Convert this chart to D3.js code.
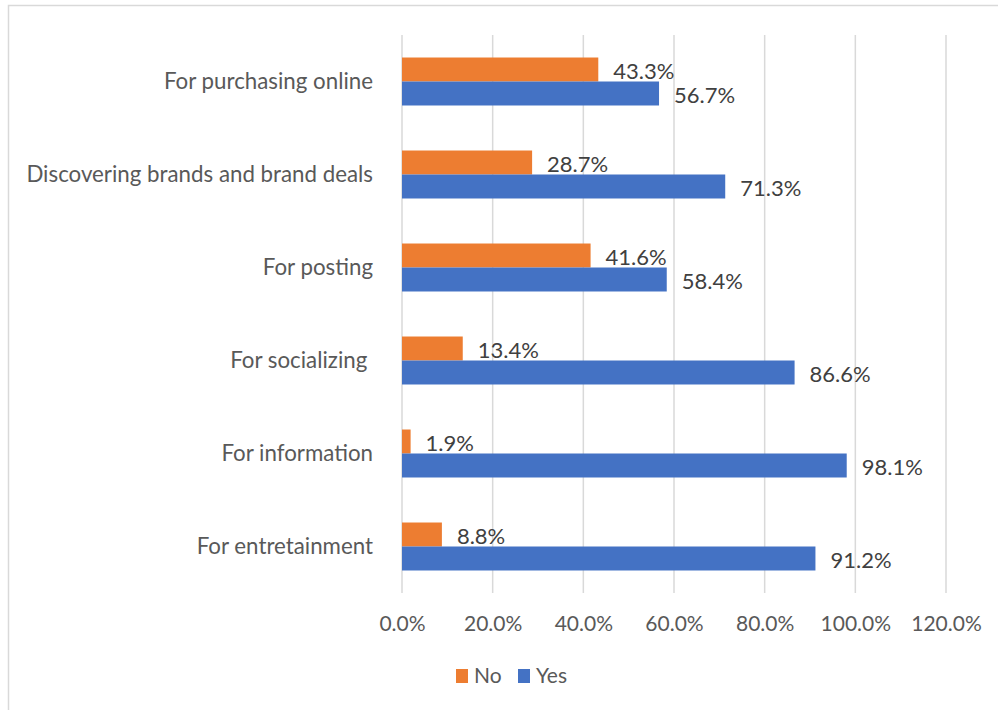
<!DOCTYPE html>
<html>
<head>
<meta charset="utf-8">
<script src="https://cdn.jsdelivr.net/npm/d3@7"></script>
<style>
  body { margin: 0; background: #fff; }
  svg { display: block; font-family: Lato, "Open Sans", sans-serif; }
</style>
</head>
<body>
<svg id="vis" width="998" height="710"></svg>
<script>
const categories = [
  'For purchasing online',
  'Discovering brands and brand deals',
  'For posting',
  'For socializing ',
  'For information',
  'For entretainment'
]
const seriesNames = ['No', 'Yes']
const noValues = [43.3, 28.7, 41.6, 13.4, 1.9, 8.8]
const yesValues = [56.7, 71.3, 58.4, 86.6, 98.1, 91.2]
const xTicks = [0, 20, 40, 60, 80, 100, 120]
const colors = { No: '#ed7d31', Yes: '#4472c4' }

const svg = d3.select('#vis')

svg.append('rect')
  .attr('x', 8.5).attr('y', 5.5)
  .attr('width', 1000).attr('height', 720)
  .attr('fill', 'none')
  .attr('stroke', '#d9d9d9')
  .attr('stroke-width', 1.5)

const x = d3.scaleLinear().domain([0, 120]).range([402, 946])
const y = d3.scaleBand()
  .domain(categories)
  .range([35, 593])
  .paddingInner(0.484)
  .paddingOuter(0.242)
const sub = d3.scaleBand().domain(seriesNames).range([0, y.bandwidth()])

// gridlines
svg.append('g')
  .selectAll('line')
  .data(xTicks)
  .join('line')
  .attr('x1', d => x(d)).attr('x2', d => x(d))
  .attr('y1', 35).attr('y2', 593)
  .attr('stroke', '#d9d9d9')
  .attr('stroke-width', 1.5)

// x axis labels
const xAxis = svg.append('g')
  .attr('transform', 'translate(0,593)')
  .call(d3.axisBottom(x).tickValues(xTicks).tickFormat(d => d.toFixed(1) + '%').tickSize(0).tickPadding(23))
xAxis.select('.domain').remove()
xAxis.selectAll('text')
  .attr('fill', '#595959')
  .style('font-size', '21px')
  .style('font-family', 'Lato, "Open Sans", sans-serif')

// category labels
const yAxis = svg.append('g')
  .attr('transform', 'translate(402,0)')
  .call(d3.axisLeft(y).tickSize(0).tickPadding(29))
yAxis.select('.domain').remove()
yAxis.selectAll('text')
  .attr('fill', '#595959')
  .style('font-size', '22.3px')
  .style('white-space', 'pre')
  .style('font-family', 'Lato, "Open Sans", sans-serif')

const rows = categories.map((c, i) => ({
  category: c,
  values: [
    { key: 'No', value: noValues[i] },
    { key: 'Yes', value: yesValues[i] }
  ]
}))

const groups = svg.append('g')
  .selectAll('g')
  .data(rows)
  .join('g')
  .attr('transform', d => `translate(0,${y(d.category)})`)

groups.selectAll('rect')
  .data(d => d.values)
  .join('rect')
  .attr('x', x(0))
  .attr('y', d => sub(d.key))
  .attr('width', d => x(d.value) - x(0))
  .attr('height', sub.bandwidth())
  .attr('fill', d => colors[d.key])

groups.selectAll('text')
  .data(d => d.values)
  .join('text')
  .attr('x', d => x(d.value) + 15)
  .attr('y', d => sub(d.key) + sub.bandwidth() / 2 + 2)
  .attr('dy', '0.35em')
  .attr('fill', '#404040')
  .style('font-size', '22px')
  .text(d => d.value.toFixed(1) + '%')

// legend
const legend = svg.append('g')
  .selectAll('g')
  .data(seriesNames)
  .join('g')
  .attr('transform', (d, i) => `translate(${[456, 518][i]},669)`)
legend.append('rect')
  .attr('width', 12).attr('height', 14)
  .attr('fill', d => colors[d])
legend.append('text')
  .attr('x', 18).attr('y', 14)
  .attr('fill', '#595959')
  .style('font-size', '21px')
  .text(d => d)
</script>
</body>
</html>
